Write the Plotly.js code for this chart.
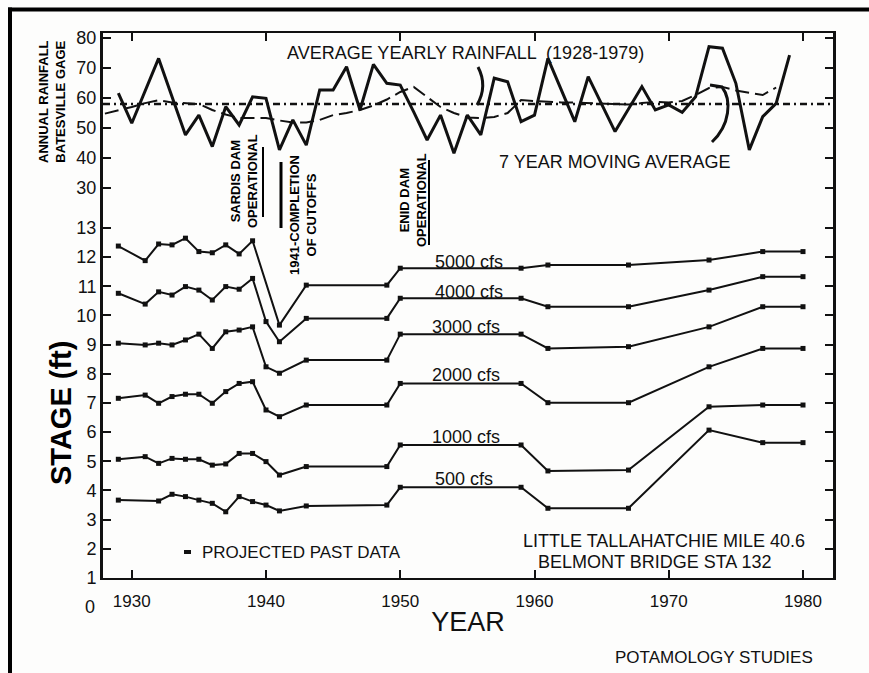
<!DOCTYPE html>
<html>
<head>
<meta charset="utf-8">
<script src="https://cdn.plot.ly/plotly-3.0.1.min.js"></script>
<style>
  html, body { margin: 0; padding: 0; background: #fdfdfc; }
  #chart { width: 869px; height: 673px; }
</style>
</head>
<body>
<div id="chart"></div>
<script>
// Annual rainfall, inches
const rainYears = [1929,1930,1932,1934,1935,1936,1937,1938,1939,1940,1941,1942,1943,1944,1945,1946,1947,1948,1949,1950,1951,1952,1953,1954,1955,1956,1957,1958,1959,1960,1961,1963,1964,1966,1968,1969,1970,1971,1972,1973,1974,1975,1976,1977,1978,1979];
const rainfall = [61.6,51.6,73.2,47.7,54.3,43.8,57.1,51.0,60.4,59.9,42.7,52.7,44.3,62.7,62.7,70.4,56.0,71.2,64.9,64.3,55.4,46.0,54.3,41.6,54.3,47.7,66.6,65.4,52.1,54.3,73.2,52.1,67.1,48.8,63.8,56.0,57.7,55.2,60.4,77.1,76.6,64.9,42.7,53.8,58.2,74.3];

// 7 year moving average of the rainfall, inches
const avgYears = [1928,1929,1930,1931,1932,1933,1934,1935,1936,1937,1938,1939,1940,1941,1942,1943,1944,1945,1946,1947,1948,1949,1950,1951,1952,1953,1954,1955,1956,1957,1958,1959,1960,1961,1962,1963,1964,1965,1966,1967,1968,1969,1970,1971,1972,1973,1974,1975,1976,1977,1978];
const movingAvg = [54.8,55.8,57.0,58.3,59.3,58.5,58.3,58.0,56.0,54.5,53.3,53.3,53.3,52.5,51.8,51.8,52.7,54.3,55.0,56.0,57.5,59.5,62.0,63.7,60.5,57.0,55.0,53.5,53.3,53.7,55.0,59.3,59.0,58.7,58.5,58.5,58.3,58.0,58.0,57.8,58.3,58.7,58.5,59.0,61.0,63.3,63.7,62.5,61.7,61.0,63.5];

// Average yearly rainfall 1928-1979, inches
const meanRainfall = 58;

// Stage (ft) at Belmont Bridge for constant discharges
const s5000Years = [1929,1931,1932,1933,1934,1935,1936,1937,1938,1939,1941,1943,1949,1950,1959,1961,1967,1973,1977,1980];
const s5000 = [12.38,11.88,12.45,12.42,12.65,12.19,12.15,12.42,12.11,12.56,9.67,11.04,11.04,11.62,11.62,11.73,11.73,11.90,12.19,12.19];

const stageYears = [1929,1931,1932,1933,1934,1935,1936,1937,1938,1939,1940,1941,1943,1949,1950,1959,1961,1967,1973,1977,1980];
const s4000 = [10.76,10.39,10.81,10.70,10.99,10.87,10.53,10.99,10.90,11.27,9.79,9.10,9.90,9.90,10.59,10.59,10.30,10.30,10.87,11.33,11.33];
const s3000 = [9.05,8.99,9.05,8.99,9.16,9.36,8.87,9.44,9.50,9.61,8.24,8.02,8.47,8.47,9.36,9.36,8.87,8.93,9.61,10.30,10.30];
const s2000 = [7.16,7.27,6.99,7.22,7.30,7.30,6.99,7.39,7.67,7.73,6.76,6.53,6.93,6.93,7.67,7.67,7.01,7.01,8.24,8.87,8.87];
const s1000 = [5.07,5.16,4.93,5.10,5.07,5.07,4.87,4.91,5.27,5.27,4.99,4.53,4.82,4.82,5.56,5.56,4.67,4.70,6.87,6.93,6.93];

const s500Years = [1929,1932,1933,1934,1935,1936,1937,1938,1939,1940,1941,1943,1949,1950,1959,1961,1967,1973,1977,1980];
const s500 = [3.67,3.64,3.87,3.79,3.67,3.56,3.27,3.79,3.62,3.50,3.30,3.47,3.50,4.11,4.11,3.39,3.39,6.07,5.64,5.64];

// Axis ticks
const yearTicks = [1930,1940,1950,1960,1970,1980];
const stageTicks = [1,2,3,4,5,6,7,8,9,10,11,12,13];
const rainTicks = [30,40,50,60,70,80];

const FONT = 'Liberation Sans, Arial, Helvetica, sans-serif';
const INK = '#111111';

// plot area in pixels: x 103..833, y 33..578
const L = 103, R = 833, T = 33, B = 578;
const px = v => (v - L) / (R - L);
const py = v => (B - v) / (B - T);

const stageTrace = (x, y) => ({
  type: 'scatter', mode: 'lines+markers', x: x, y: y,
  xaxis: 'x', yaxis: 'y',
  line: { color: INK, width: 2 },
  marker: { symbol: 'square', size: 5, color: INK },
  showlegend: false, hoverinfo: 'skip'
});

const traces = [
  stageTrace(s5000Years, s5000),
  stageTrace(stageYears, s4000),
  stageTrace(stageYears, s3000),
  stageTrace(stageYears, s2000),
  stageTrace(stageYears, s1000),
  stageTrace(s500Years, s500),
  {
    type: 'scatter', mode: 'lines', x: avgYears, y: movingAvg,
    xaxis: 'x', yaxis: 'y2',
    line: { color: INK, width: 2, dash: '14px,6px' },
    showlegend: false, hoverinfo: 'skip'
  },
  {
    type: 'scatter', mode: 'lines', x: rainYears, y: rainfall,
    xaxis: 'x', yaxis: 'y2',
    line: { color: INK, width: 3 },
    showlegend: false, hoverinfo: 'skip'
  }
];

const txt = (text, x, y, opts) => Object.assign({
  text: text, x: px(x), y: py(y), xref: 'paper', yref: 'paper',
  xanchor: 'left', yanchor: 'middle', showarrow: false,
  font: { family: FONT, size: 18, color: INK }
}, opts || {});

const boldV = (text, x, y, size) => txt(text, x, y, {
  xanchor: 'center', textangle: -90,
  font: { family: FONT, size: size, color: '#000', weight: 'bold' }
});

const annotations = [
  txt('AVERAGE YEARLY RAINFALL  (1928-1979)', 285, 53),
  txt('7 YEAR MOVING AVERAGE', 497, 162),
  txt('5000 cfs', 433, 262),
  txt('4000 cfs', 433, 292),
  txt('3000 cfs', 430, 327),
  txt('2000 cfs', 430, 375),
  txt('1000 cfs', 430, 437),
  txt('500 cfs', 433, 479),
  txt('PROJECTED PAST DATA', 200, 552, { font: { family: FONT, size: 17, color: INK } }),
  txt('LITTLE TALLAHATCHIE MILE 40.6', 664, 541, { xanchor: 'center' }),
  txt('BELMONT BRIDGE STA 132', 654, 562, { xanchor: 'center' }),
  txt('POTAMOLOGY STUDIES', 613, 657, { font: { family: FONT, size: 17, color: INK } }),
  txt('0', 97, 607, { xanchor: 'right' }),
  boldV('STAGE (ft)', 61, 413, 29),
  boldV('ANNUAL RAINFALL<br>BATESVILLE GAGE', 52, 102, 13),
  boldV('SARDIS DAM<br>OPERATIONAL', 244, 181, 13),
  boldV('1941-COMPLETION<br>OF CUTOFFS', 303, 215, 13),
  boldV('ENID DAM<br>OPERATIONAL', 413, 200, 13)
];

const seg = (x0, y0, x1, y1, w) => ({
  type: 'line', xref: 'paper', yref: 'paper',
  x0: px(x0), y0: py(y0), x1: px(x1), y1: py(y1),
  line: { color: '#000', width: w }
});

const shapes = [
  // page frame
  seg(8, 9.5, 869, 9.5, 4),
  seg(10, 7.5, 10, 673, 4),
  // average yearly rainfall
  {
    type: 'line', xref: 'paper', yref: 'y2', x0: 0, x1: 1,
    y0: meanRainfall, y1: meanRainfall,
    line: { color: INK, width: 2.5, dash: '7px,4px,2px,4px' }
  },
  // markers beside the dam notes
  seg(263, 147, 263, 217, 2),
  seg(281, 162, 281, 228, 3),
  seg(429, 160, 429, 245, 2),
  // leader curves
  {
    type: 'path', xref: 'paper', yref: 'paper',
    path: `M ${px(478)} ${py(67)} Q ${px(488)} ${py(86)} ${px(477)} ${py(105)}`,
    line: { color: INK, width: 3 }
  },
  {
    type: 'path', xref: 'paper', yref: 'paper',
    path: `M ${px(710)} ${py(85)} L ${px(722)} ${py(87)} C ${px(732)} ${py(100)} ${px(730)} ${py(125)} ${px(712)} ${py(142)}`,
    line: { color: INK, width: 3 }
  },
  // projected past data key
  {
    type: 'rect', xref: 'paper', yref: 'paper',
    x0: px(184), x1: px(191), y0: py(550), y1: py(554),
    line: { width: 0 }, fillcolor: INK
  }
];

const layout = {
  width: 869, height: 673,
  margin: { l: L, r: 869 - R, t: T, b: 673 - B, pad: 0 },
  paper_bgcolor: '#fdfdfc',
  plot_bgcolor: 'rgba(0,0,0,0)',
  font: { family: FONT, color: INK },
  showlegend: false,
  xaxis: {
    range: [1927.858, 1982.235],
    tickmode: 'array', tickvals: yearTicks,
    ticks: 'inside', ticklen: 8, tickwidth: 2, tickcolor: INK,
    showline: true, linecolor: INK, linewidth: 2, mirror: 'ticks',
    showgrid: false, zeroline: false,
    tickfont: { family: FONT, size: 17, color: INK },
    ticklabelstandoff: 7,
    title: { text: 'YEAR', font: { family: FONT, size: 27, color: INK }, standoff: 2 },
    anchor: 'y'
  },
  yaxis: {
    domain: [0, 1],
    range: [1, 1 + (B - T) / 29.17],
    tickmode: 'array', tickvals: stageTicks,
    ticks: 'inside', ticklen: 8, tickwidth: 2, tickcolor: INK,
    showline: true, linecolor: INK, linewidth: 3, mirror: 'ticks',
    showgrid: false, zeroline: false,
    tickfont: { family: FONT, size: 18, color: INK },
    anchor: 'x'
  },
  yaxis2: {
    domain: [py(200), 1],
    range: [26, 30 + (188 - T) / 3],
    tickmode: 'array', tickvals: rainTicks,
    ticks: 'inside', ticklen: 8, tickwidth: 2, tickcolor: INK,
    showline: true, linecolor: INK, linewidth: 3, mirror: 'ticks',
    showgrid: false, zeroline: false,
    tickfont: { family: FONT, size: 18, color: INK },
    anchor: 'x'
  },
  annotations: annotations,
  shapes: shapes
};

Plotly.newPlot('chart', traces, layout, { staticPlot: true, displayModeBar: false });
</script>
</body>
</html>
